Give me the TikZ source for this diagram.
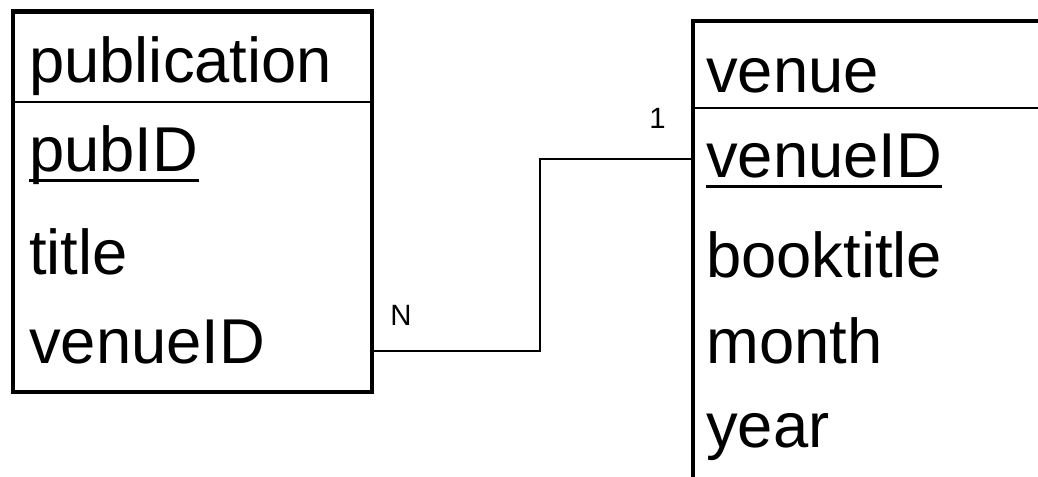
\documentclass[tikz,border=0pt]{standalone}
\usepackage{fontspec}
\setmainfont{Liberation Sans}
\usetikzlibrary{positioning}

\begin{document}
\begin{tikzpicture}[
  x=0.75pt,y=-0.75pt,
  every node/.style={font=\fontsize{47.5}{50}\selectfont,inner sep=0pt},
  tbl/.style={draw,line width=3.6pt,inner sep=0pt},
  attr/.style={anchor=base west},
  sep/.style={line width=1.5pt},
  keyline/.style={line width=2.25pt},
  link/.style={line width=1pt},
  card/.style={font=\fontsize{22}{24}\selectfont,anchor=base west}]
  \path[use as bounding box] (0,0) rectangle (1038,477);
  \clip (0,0) rectangle (1038,477);

  % Table publication.
  \node[tbl,minimum width=269.25pt,minimum height=285.4pt] (pub) at (192.5,201.75) {};
  \coordinate (pubhdr) at (0,102);
  \draw[sep] (pub.west |- pubhdr) -- (pub.east |- pubhdr);
  \node[attr] (pubname) at (29,83) {publication};
  \node[attr] (pid) at (29,172) {pubID};
  \draw[keyline] ([yshift=-6.75pt]pid.base west) -- ([yshift=-6.75pt]pid.base east);
  \node[attr] (ptitle) at (29,275) {title};
  \node[attr] (pvid) at (29,363) {venueID};

  % Table venue (runs off the page).
  \node[tbl,minimum width=275.25pt,minimum height=359.25pt] (ven) at (876.5,260.5) {};
  \coordinate (venhdr) at (0,108);
  \draw[sep] (ven.west |- venhdr) -- (ven.east |- venhdr);
  \node[attr] (venname) at (706,93) {venue};
  \node[attr] (vid) at (706,178) {venueID};
  \draw[keyline] ([yshift=-6.75pt]vid.base west) -- ([yshift=-6.75pt]vid.base east);
  \node[attr] (vbook) at (706,277) {booktitle};
  \node[attr] (vmonth) at (706,363) {month};
  \node[attr] (vyear) at (706,447) {year};

  % Relationship N:1.
  \coordinate (lowbend) at (540,351);
  \coordinate (highbend) at (540,159);
  \draw[link] (pub.east |- lowbend) -- (lowbend) -- (highbend)
    -- (ven.west |- highbend);
  \node[card] (cardN) at (390,325) {N};
  \node[card] (card1) at (649,129) {1};
\end{tikzpicture}
\end{document}
